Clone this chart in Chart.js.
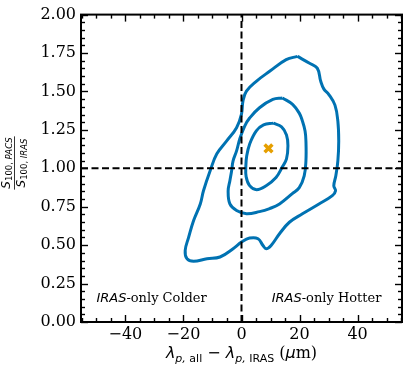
<!DOCTYPE html>
<html><head><meta charset="utf-8">
<script src="https://cdn.jsdelivr.net/npm/chart.js@4/dist/chart.umd.min.js"></script>
<style>html,body{margin:0;padding:0;background:#fff;}</style>
</head><body>
<canvas id="c" width="411" height="370"></canvas>
<script>
// ---- data ----
const outerX = [19.3, 23.3, 26.1, 27.3, 28.4, 30.1, 32.2, 33.2, 33.5, 33.2, 32.5, 31.8, 32.4, 31.3, 26.7, 21.0, 16.5, 13.1, 10.2, 8.5, 7.4, 5.7, 2.8, 0.0, -2.9, -7.4, -11.9, -16.5, -18.8, -19.4, -18.2, -16.5, -14.2, -13.1, -10.8, -8.5, -5.1, -1.7, 0.0, 0.5, 1.7, 5.1, 9.7, 15.4, 19.3];
const outerY = [1.728, 1.685, 1.652, 1.566, 1.515, 1.480, 1.411, 1.307, 1.178, 1.049, 0.951, 0.887, 0.854, 0.822, 0.768, 0.704, 0.649, 0.574, 0.498, 0.477, 0.498, 0.542, 0.546, 0.520, 0.477, 0.423, 0.412, 0.395, 0.412, 0.466, 0.552, 0.660, 0.768, 0.854, 0.984, 1.094, 1.178, 1.264, 1.353, 1.437, 1.502, 1.566, 1.631, 1.707, 1.728];
const middleX = [14.1, 17.6, 19.9, 21.0, 21.9, 22.2, 22.2, 21.6, 19.9, 17.5, 13.1, 9.7, 6.2, 1.7, -1.7, -4.0, -4.6, -4.0, -3.4, -2.9, -1.7, -0.6, 1.1, 2.8, 6.2, 10.8, 14.1];
const middleY = [1.458, 1.416, 1.359, 1.307, 1.243, 1.178, 1.049, 0.951, 0.874, 0.835, 0.768, 0.738, 0.718, 0.704, 0.725, 0.768, 0.854, 0.919, 0.984, 1.049, 1.113, 1.191, 1.275, 1.327, 1.394, 1.448, 1.458];
const innerX = [11.0, 13.8, 15.5, 16.0, 15.5, 14.1, 11.9, 8.5, 5.2, 2.8, 1.6, 1.5, 1.8, 2.8, 5.1, 7.6, 11.0];
const innerY = [1.294, 1.269, 1.217, 1.146, 1.061, 1.010, 0.940, 0.887, 0.861, 0.887, 0.945, 1.016, 1.081, 1.157, 1.243, 1.282, 1.294];
const peakX = [9.3];
const peakY = [1.13];
const refLineX = [0];
const refLineY = [1];
const xMajorTicks = [-40, -20, 0, 20, 40];
const yMajorTicks = [0, 0.25, 0.5, 0.75, 1.0, 1.25, 1.5, 1.75, 2.0];
const xMinorStep = 5;
const yMinorStep = 0.05;
const xLimits = [-55.3, 55.3];
const yLimits = [0, 2];
const leftNote = ['IRAS', '-only Colder'];
const rightNote = ['IRAS', '-only Hotter'];

// ---- helpers ----
const pts = (xs, ys) => xs.map((x, i) => ({x: x, y: ys[i]}));
const BLUE = '#0072B2', ORANGE = '#E69F00';
const SANS = '"DejaVu Sans", sans-serif', SERIF = '"DejaVu Serif", serif';

function runsWidth(ctx, runs) {
  let w = 0;
  for (const r of runs) { ctx.font = r.f; w += ctx.measureText(r.t).width; }
  return w;
}
function drawRuns(ctx, runs, x, y, align) {
  let cx = align === 'center' ? x - runsWidth(ctx, runs) / 2 : x;
  ctx.textBaseline = 'alphabetic';
  ctx.textAlign = 'left';
  for (const r of runs) {
    ctx.font = r.f;
    ctx.fillText(r.t, cx, y + (r.dy || 0));
    cx += ctx.measureText(r.t).width;
  }
}

const decor = {
  id: 'decor',
  afterDatasetsDraw(chart) {
    const ctx = chart.ctx, a = chart.chartArea;
    const xs = chart.scales.x, ys = chart.scales.y;
    ctx.save();
    ctx.strokeStyle = '#000';
    // ticks (inward, all four sides)
    const tick = (x1, y1, x2, y2, w) => { ctx.lineWidth = w; ctx.beginPath(); ctx.moveTo(x1, y1); ctx.lineTo(x2, y2); ctx.stroke(); };
    const MAJ = 7, MIN = 4;
    for (let v = Math.ceil(xLimits[0] / xMinorStep) * xMinorStep; v <= xLimits[1]; v += xMinorStep) {
      const px = Math.round(xs.getPixelForValue(v)) + 0.5;
      const major = xMajorTicks.includes(v);
      const L = major ? MAJ : MIN;
      tick(px, a.bottom, px, a.bottom - L, 1.4);
      tick(px, a.top, px, a.top + L, 1.4);
    }
    for (let k = 0; k <= Math.round((yLimits[1] - yLimits[0]) / yMinorStep); k++) {
      const v = yLimits[0] + k * yMinorStep;
      const py = Math.round(ys.getPixelForValue(v)) + 0.5;
      const major = yMajorTicks.some(t => Math.abs(t - v) < 1e-6);
      const L = major ? MAJ : MIN;
      tick(a.left, py, a.left + L, py, 1.4);
      tick(a.right, py, a.right - L, py, 1.4);
    }
    // frame
    ctx.lineWidth = 2;
    ctx.strokeRect(a.left, a.top, a.right - a.left, a.bottom - a.top);

    // annotations
    ctx.fillStyle = '#000';
    const noteY = ys.getPixelForValue(0.13);
    drawRuns(ctx, [{t: leftNote[0], f: 'italic 13px ' + SANS}, {t: leftNote[1], f: '13px ' + SERIF}], xs.getPixelForValue(-50), noteY, 'left');
    drawRuns(ctx, [{t: rightNote[0], f: 'italic 13px ' + SANS}, {t: rightNote[1], f: '13px ' + SERIF}], xs.getPixelForValue(10.4), noteY, 'left');

    // x axis title
    const xc = (a.left + a.right) / 2;
    drawRuns(ctx, [
      {t: 'λ', f: 'italic 16px ' + SANS},
      {t: 'p,', f: 'italic 11px ' + SANS, dy: 3.5},
      {t: ' all', f: '11px ' + SANS, dy: 3.5},
      {t: ' − ', f: '16px ' + SANS},
      {t: 'λ', f: 'italic 16px ' + SANS},
      {t: 'p,', f: 'italic 11px ' + SANS, dy: 3.5},
      {t: ' IRAS', f: '11px ' + SANS, dy: 3.5},
      {t: ' (', f: '16px ' + SERIF},
      {t: 'μ', f: 'italic 16px ' + SANS},
      {t: 'm)', f: '16px ' + SERIF}
    ], xc, 358, 'center');

    // y axis title (fraction)
    ctx.translate(14, 163);
    ctx.rotate(-Math.PI / 2);
    const num = [{t: 'S', f: 'italic 12px ' + SANS}, {t: '100, ', f: '8.5px ' + SANS, dy: 2.5}, {t: 'PACS', f: 'italic 8.5px ' + SANS, dy: 2.5}];
    const den = [{t: 'S', f: 'italic 12px ' + SANS}, {t: '100, ', f: '8.5px ' + SANS, dy: 2.5}, {t: 'IRAS', f: 'italic 8.5px ' + SANS, dy: 2.5}];
    const wn = runsWidth(ctx, num), wd = runsWidth(ctx, den);
    const wb = Math.max(wn, wd) + 2;
    drawRuns(ctx, num, 0, -4.5, 'center');
    drawRuns(ctx, den, 0, 10.5, 'center');
    ctx.lineWidth = 0.8;
    ctx.beginPath(); ctx.moveTo(-wb / 2, 0.5); ctx.lineTo(wb / 2, 0.5); ctx.stroke();
    ctx.restore();
  }
};

const contour = (xs, ys) => ({
  data: pts(xs, ys), showLine: true, pointRadius: 0, borderColor: BLUE,
  borderWidth: 3, tension: 0.4, fill: false, order: 3
});

new Chart(document.getElementById('c'), {
  type: 'scatter',
  data: {
    datasets: [
      {data: pts(peakX, peakY), pointStyle: 'crossRot', pointRadius: 5.5, borderWidth: 3.5,
       borderColor: ORANGE, backgroundColor: ORANGE, order: 0},
      {data: [{x: refLineX[0], y: yLimits[0]}, {x: refLineX[0], y: yLimits[1]}], showLine: true,
       pointRadius: 0, borderColor: '#000', borderWidth: 2, borderDash: [7, 3.5], order: 1},
      {data: [{x: xLimits[0], y: refLineY[0]}, {x: xLimits[1], y: refLineY[0]}], showLine: true,
       pointRadius: 0, borderColor: '#000', borderWidth: 2, borderDash: [7, 3.5], order: 1},
      contour(outerX, outerY),
      contour(middleX, middleY),
      contour(innerX, innerY)
    ]
  },
  options: {
    responsive: false, animation: false, devicePixelRatio: 1,
    layout: {padding: {left: 0, right: 7, top: 13, bottom: 0}},
    plugins: {legend: {display: false}, tooltip: {enabled: false}},
    scales: {
      x: {
        type: 'linear', min: xLimits[0], max: xLimits[1],
        grid: {display: false, drawTicks: false}, border: {display: false},
        afterBuildTicks: s => { s.ticks = xMajorTicks.map(v => ({value: v})); },
        afterFit: s => { s.height = 48; },
        ticks: {color: '#000', padding: 3, maxRotation: 0, font: {family: 'DejaVu Serif', size: 16},
                callback: v => (v < 0 ? '−' + Math.abs(v) : String(v))}
      },
      y: {
        type: 'linear', min: yLimits[0], max: yLimits[1],
        grid: {display: false, drawTicks: false}, border: {display: false},
        afterBuildTicks: s => { s.ticks = yMajorTicks.map(v => ({value: v})); },
        afterFit: s => { s.width = 81; },
        ticks: {color: '#000', padding: 5, font: {family: 'DejaVu Serif', size: 16},
                callback: v => Number(v).toFixed(2)}
      }
    }
  },
  plugins: [decor]
});
</script>
</body></html>
